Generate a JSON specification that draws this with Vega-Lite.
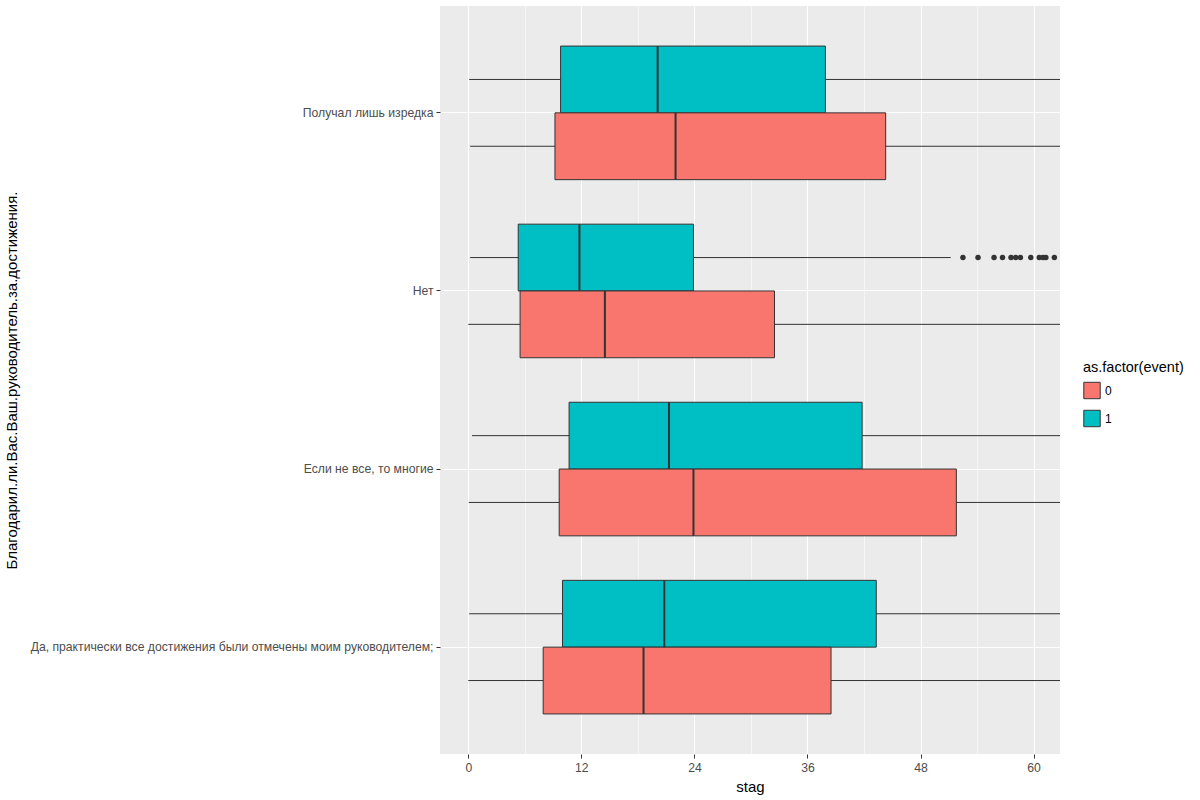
{
  "$schema": "https://vega.github.io/schema/vega-lite/v6.json",
  "width": 620,
  "height": 748,
  "autosize": {"type": "none"},
  "padding": {"left": 440, "top": 6, "right": 140, "bottom": 46},
  "background": "white",
  "config": {
    "font": "Liberation Sans",
    "view": {"fill": "#EBEBEB", "stroke": null},
    "axis": {
      "labelFont": "Liberation Sans",
      "titleFont": "Liberation Sans",
      "labelColor": "#4D4D4D",
      "labelFontSize": 12.2,
      "titleFontSize": 15,
      "titleFontWeight": "normal",
      "titleColor": "#000000",
      "tickColor": "#333333",
      "tickSize": 4,
      "domain": false,
      "gridColor": "#FFFFFF"
    },
    "legend": {
      "labelFont": "Liberation Sans",
      "titleFont": "Liberation Sans"
    }
  },
  "datasets": {
    "boxes": [
      {"q": "Получал лишь изредка", "event": "1", "lo": 0.1, "q1": 9.8, "med": 20.1, "q3": 37.9, "hi": 80},
      {"q": "Получал лишь изредка", "event": "0", "lo": 0.2, "q1": 9.2, "med": 22.0, "q3": 44.3, "hi": 97},
      {"q": "Нет", "event": "1", "lo": 0.2, "q1": 5.3, "med": 11.8, "q3": 23.9, "hi": 51.2},
      {"q": "Нет", "event": "0", "lo": 0.0, "q1": 5.5, "med": 14.5, "q3": 32.5, "hi": 72},
      {"q": "Если не все, то многие", "event": "1", "lo": 0.4, "q1": 10.7, "med": 21.3, "q3": 41.8, "hi": 79},
      {"q": "Если не все, то многие", "event": "0", "lo": 0.05, "q1": 9.65, "med": 23.9, "q3": 51.8, "hi": 100},
      {"q": "Да, практически все достижения были отмечены моим руководителем;", "event": "1", "lo": 0.1, "q1": 10.0, "med": 20.8, "q3": 43.3, "hi": 78},
      {"q": "Да, практически все достижения были отмечены моим руководителем;", "event": "0", "lo": 0.0, "q1": 7.95, "med": 18.6, "q3": 38.5, "hi": 70}
    ],
    "outliers": [
      {"q": "Нет", "event": "1", "v": 52.5},
      {"q": "Нет", "event": "1", "v": 54.1},
      {"q": "Нет", "event": "1", "v": 55.8},
      {"q": "Нет", "event": "1", "v": 56.7},
      {"q": "Нет", "event": "1", "v": 57.6},
      {"q": "Нет", "event": "1", "v": 58.1},
      {"q": "Нет", "event": "1", "v": 58.6},
      {"q": "Нет", "event": "1", "v": 59.7},
      {"q": "Нет", "event": "1", "v": 60.6},
      {"q": "Нет", "event": "1", "v": 61.0},
      {"q": "Нет", "event": "1", "v": 61.3},
      {"q": "Нет", "event": "1", "v": 62.2}
    ]
  },
  "encoding": {
    "y": {
      "field": "q",
      "type": "nominal",
      "sort": ["Получал лишь изредка", "Нет", "Если не все, то многие", "Да, практически все достижения были отмечены моим руководителем;"],
      "scale": {"paddingInner": 0.25, "paddingOuter": 0.225},
      "axis": {"title": "Благодарил.ли.Вас.Ваш.руководитель.за.достижения.", "grid": true, "gridWidth": 1.1, "labelPadding": 3, "labelLimit": 600, "titleX": -421, "titleY": 374, "titleAlign": "center", "titleBaseline": "bottom", "titleAngle": -90}
    },
    "yOffset": {
      "field": "event",
      "type": "nominal",
      "scale": {"domain": ["1", "0"], "paddingInner": 0, "paddingOuter": 0}
    }
  },
  "layer": [
    {
      "data": {"name": "boxes"},
      "mark": {"type": "rule", "color": "#333333", "strokeWidth": 1, "clip": true},
      "encoding": {
        "x": {
          "field": "lo",
          "type": "quantitative",
          "scale": {"domain": [-3.0, 62.8], "nice": false, "zero": false},
          "axis": {"title": "stag", "values": [0, 12, 24, 36, 48, 60], "grid": true, "gridWidth": 1.1, "labelPadding": 3, "titlePadding": 6}
        },
        "x2": {"field": "hi"}
      }
    },
    {
      "data": {"name": "boxes"},
      "mark": {"type": "rule", "opacity": 0, "clip": true},
      "encoding": {
        "x": {
          "field": "lo",
          "type": "quantitative",
          "axis": {"orient": "top", "values": [6, 18, 30, 42, 54], "grid": true, "gridWidth": 0.55, "labels": false, "ticks": false, "title": null, "domain": false}
        }
      }
    },
    {
      "data": {"name": "boxes"},
      "mark": {"type": "bar", "stroke": "#333333", "strokeWidth": 1, "clip": true},
      "encoding": {
        "x": {"field": "q1", "type": "quantitative", "axis": null},
        "x2": {"field": "q3"},
        "color": {
          "field": "event",
          "type": "nominal",
          "scale": {"domain": ["0", "1"], "range": ["#F8766D", "#00BFC4"]},
          "legend": {
            "title": "as.factor(event)",
            "orient": "none",
            "legendX": 643,
            "legendY": 355,
            "titleFontSize": 14.5,
            "titleFontWeight": "normal",
            "titleColor": "#000000",
            "labelFontSize": 12,
            "labelColor": "#000000",
            "symbolType": "square",
            "symbolSize": 270,
            "symbolStrokeColor": "#333333",
            "symbolStrokeWidth": 1,
            "symbolOpacity": 1,
            "rowPadding": 6,
            "titlePadding": 6
          }
        }
      }
    },
    {
      "data": {"name": "boxes"},
      "mark": {"type": "bar", "stroke": "#333333", "strokeWidth": 2, "fill": null, "clip": true},
      "encoding": {
        "x": {"field": "med", "type": "quantitative", "axis": null},
        "x2": {"field": "med"}
      }
    },
    {
      "data": {"name": "outliers"},
      "mark": {"type": "point", "filled": true, "color": "#333333", "opacity": 1, "size": 30, "clip": true},
      "encoding": {
        "x": {"field": "v", "type": "quantitative", "axis": null}
      }
    }
  ],
  "resolve": {"axis": {"x": "independent"}}
}
